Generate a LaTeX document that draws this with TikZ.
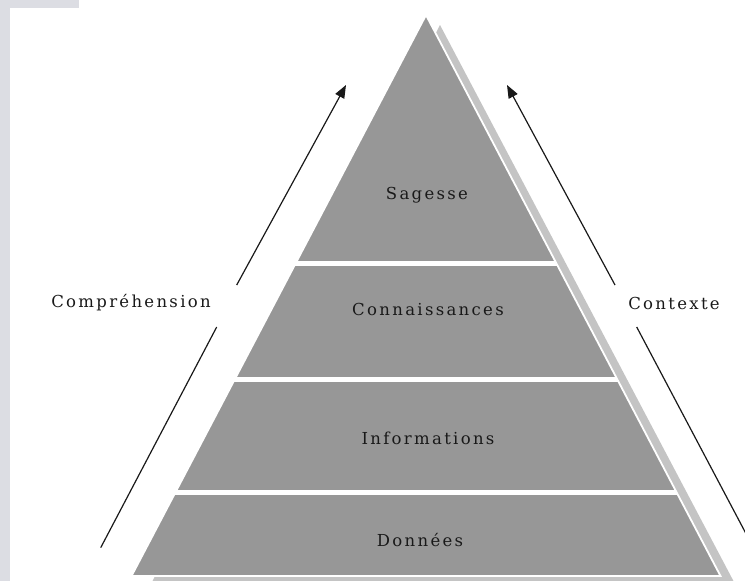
\documentclass[tikz,border=0pt]{standalone}
\usepackage{fontspec}
\setmainfont{DejaVu Serif}[LetterSpace=14]
\usetikzlibrary{arrows.meta}
\definecolor{pyrgray}{RGB}{151,151,151}
\definecolor{shadowgray}{RGB}{196,196,196}
\definecolor{stripgray}{RGB}{220,221,227}
\definecolor{inkc}{RGB}{25,25,25}
\tikzset{
  lbl/.style={inner sep=0pt, text=inkc, font=\fontsize{16.5}{19}\selectfont},
  arrowline/.style={draw=inkc, line width=1.2pt},
  arrowtip/.style={arrowline, -{Triangle[length=13pt,width=10pt]}},
  sep/.style={draw=white, line width=5pt}
}
\begin{document}
\begin{tikzpicture}[x=1pt,y=-1pt]
\useasboundingbox (0,0) rectangle (745,581);
\begin{scope}
\clip (0,0) rectangle (745,581);
% background strips
\fill[stripgray] (0,0) rectangle (79,8);
\fill[stripgray] (0,0) rectangle (10,581);
% shadow
\fill[shadowgray] (440,25) -- (734,582) -- (152,582) -- cycle;
% main pyramid
\coordinate (apex) at (426,15);
\coordinate (bl) at (131.5,576);
\coordinate (br) at (720.5,576);
\filldraw[fill=pyrgray, draw=white, line width=1.8pt] (apex) -- (br) -- (bl) -- cycle;
% separators
\begin{scope}
\clip (apex) -- (br) -- (bl) -- cycle;
\draw[sep] (100,263.5) -- (750,263.5);
\draw[sep] (100,379.5) -- (750,379.5);
\draw[sep] (100,492.5) -- (750,492.5);
\end{scope}
% labels
\node[lbl] (sag) at (427,195) {Sagesse};
\node[lbl] (con) at (428,309) {Connaissances};
\node[lbl] (inf) at (428,438) {Informations};
\node[lbl] (don) at (420,540) {Données};
\node[lbl] (comp) at (131,303) {Compréhension};
\node[lbl] (ctx) at (674,303) {Contexte};
% arrows
\coordinate (la0) at (100.7,547.7);
\coordinate (la1) at (216.7,327);
\coordinate (la2) at (236.7,285);
\coordinate (la3) at (346,85);
\draw[arrowline] (la0) -- (la1);
\draw[arrowtip] (la2) -- (la3);
\coordinate (ra0) at (752,545);
\coordinate (ra1) at (636.7,327);
\coordinate (ra2) at (615,285);
\coordinate (ra3) at (507,85);
\draw[arrowline] (ra0) -- (ra1);
\draw[arrowtip] (ra2) -- (ra3);
\end{scope}
\end{tikzpicture}
\end{document}
